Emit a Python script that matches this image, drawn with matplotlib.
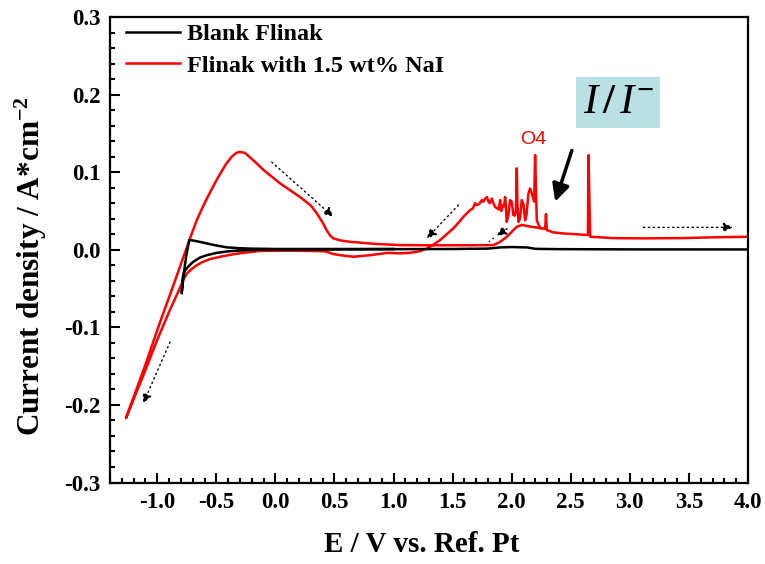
import matplotlib
matplotlib.use('Agg')
import matplotlib.pyplot as plt
from matplotlib.ticker import MultipleLocator, FormatStrFormatter

plt.rcParams['font.family'] = ['Liberation Serif', 'DejaVu Serif']
plt.rcParams['font.weight'] = 'bold'
plt.rcParams['axes.unicode_minus'] = False
plt.rcParams['mathtext.fontset'] = 'custom'
plt.rcParams['mathtext.rm'] = 'Liberation Serif:bold'
plt.rcParams['mathtext.bf'] = 'Liberation Serif:bold'
plt.rcParams['mathtext.it'] = 'Liberation Serif:style=italic:weight=normal'

# Blank Flinak (E / V, j / A cm-2)
blank_E = [4.0, 3.0, 2.4, 2.2, 2.13, 2.0, 1.90, 1.80, 1.5, 1.0, 0.5, 0.0, -0.13,
           -0.30, -0.40, -0.497, -0.58, -0.638, -0.70, -0.74, -0.77, -0.785, -0.793,
           -0.775, -0.755, -0.729, -0.70, -0.65, -0.582, -0.50, -0.412, -0.30,
           -0.215, 0.0, 1.0]
blank_j = [0.0004, 0.0005, 0.0008, 0.0012, 0.003, 0.0035, 0.003, 0.0015, 0.001,
           0.0008, 0.0006, 0.0003, 0.0, -0.001, -0.002, -0.004, -0.007, -0.010,
           -0.016, -0.022, -0.028, -0.036, -0.056, -0.030, -0.008, 0.0125, 0.012,
           0.0105, 0.0082, 0.0055, 0.0031, 0.002, 0.0015, 0.001, 0.001]

# Flinak with 1.5 wt% NaI
nai_E = [4.0, 3.7, 3.426, 3.1, 2.861, 2.664, 2.650, 2.645, 2.55, 2.438, 2.35, 2.297,
         2.290, 2.283, 2.240, 2.212, 2.198, 2.190, 2.170, 2.155, 2.141, 2.125, 2.113,
         2.100, 2.085, 2.070, 2.057, 2.048, 2.043, 2.036, 2.025, 2.014, 2.000, 1.986,
         1.972, 1.958, 1.950, 1.944, 1.935, 1.925, 1.912, 1.902, 1.890, 1.870, 1.859,
         1.845, 1.831, 1.815, 1.803, 1.790, 1.775, 1.760, 1.747, 1.725, 1.704, 1.690,
         1.670, 1.648, 1.620, 1.591, 1.55, 1.506, 1.45, 1.394, 1.33, 1.281, 1.22, 1.14,
         1.055, 0.95, 0.80, 0.66, 0.55, 0.49, 0.42, 0.30, 0.1, -0.13, -0.215, -0.30,
         -0.356, -0.45, -0.554, -0.62, -0.666, -0.71, -0.751, -0.78, -0.808, -0.90,
         -1.00, -1.10, -1.265,
         -1.10, -0.992, -0.85, -0.723, -0.666, -0.60, -0.54, -0.483, -0.42, -0.37,
         -0.33, -0.30, -0.26, -0.229, -0.17, -0.102, 0.039, 0.208, 0.30, 0.350, 0.40,
         0.434, 0.465, 0.490, 0.55, 0.631, 0.85, 1.055, 1.30, 1.60, 1.845, 1.90,
         1.959, 2.000, 2.043, 2.085, 2.15, 2.24]
nai_j = [0.0168, 0.0160, 0.0150, 0.0147, 0.0150, 0.0168, 0.122, 0.019, 0.0200,
         0.021, 0.0225, 0.0254, 0.046, 0.027, 0.028, 0.038, 0.122, 0.062, 0.0727,
         0.079, 0.072, 0.045, 0.038, 0.058, 0.064, 0.040, 0.036, 0.060, 0.105, 0.050,
         0.044, 0.0447, 0.062, 0.064, 0.045, 0.036, 0.058, 0.068, 0.056, 0.0576, 0.050,
         0.064, 0.052, 0.054, 0.0554, 0.060, 0.066, 0.060, 0.062, 0.068, 0.066, 0.062,
         0.064, 0.059, 0.0576, 0.060, 0.053, 0.0512, 0.047, 0.0425, 0.035, 0.0276,
         0.020, 0.0125, 0.006, 0.0015, -0.002, -0.0039,
         -0.0046, -0.004, -0.007, -0.009, -0.007, -0.0055, -0.002, -0.0015, -0.0012,
         -0.0015, -0.003, -0.0045, -0.0058, -0.0085, -0.012, -0.016, -0.020, -0.025,
         -0.031, -0.039, -0.049, -0.080, -0.116, -0.155, -0.217,
         -0.148, -0.100, -0.040, 0.0147, 0.038, 0.060, 0.078, 0.094, 0.110, 0.120,
         0.125, 0.126, 0.125, 0.121, 0.113, 0.103, 0.0856, 0.068, 0.057, 0.047, 0.035,
         0.025, 0.018, 0.0147, 0.012, 0.0103, 0.0075, 0.006, 0.0058, 0.0058, 0.006,
         0.010, 0.0168, 0.023, 0.0297, 0.032, 0.030, 0.028]

fig = plt.figure(figsize=(7.65, 5.64), dpi=100)
ax = fig.add_axes([0.1438, 0.1445, 0.8340, 0.8253])

ax.plot(blank_E, blank_j, color='black', lw=1.8, label='Blank Flinak', zorder=3)
ax.plot(nai_E, nai_j, color='red', lw=1.8, label='Flinak with 1.5 wt% NaI', zorder=2)

ax.set_xlim(-1.4, 4.0)
ax.set_ylim(-0.3, 0.3)
ax.xaxis.set_major_locator(MultipleLocator(0.5))
ax.xaxis.set_minor_locator(MultipleLocator(0.1))
ax.yaxis.set_major_locator(MultipleLocator(0.1))
ax.yaxis.set_minor_locator(MultipleLocator(0.02))
ax.xaxis.set_major_formatter(FormatStrFormatter('%.1f'))
ax.yaxis.set_major_formatter(FormatStrFormatter('%.1f'))
ax.set_xticks([v / 10 for v in range(-10, 41, 5)])
ax.tick_params(which='both', direction='in', top=False, right=False, width=1.5)
ax.tick_params(which='major', length=7, labelsize=16.5, pad=7)
ax.tick_params(which='minor', length=3.5)
for s in ax.spines.values():
    s.set_linewidth(1.6)

ax.set_xlabel('E / V vs. Ref. Pt', fontsize=21, fontweight='bold', va='top')
ax.xaxis.set_label_coords(0.489, -0.105)
ax.set_ylabel('Current density / A*cm$^{-2}$', fontsize=22.5, fontweight='bold')
ax.yaxis.set_label_coords(-0.095, 0.4645)

leg = ax.legend(loc='upper left', bbox_to_anchor=(0.018, 0.997), frameon=False,
                fontsize=17.5, handlelength=2.2, handletextpad=0.3, labelspacing=0.38,
                borderaxespad=0, borderpad=0.2)

# dotted scan-direction arrows
dot = dict(arrowstyle='-|>', color='black', lw=1.0, linestyle=(0, (1, 2.5)),
           mutation_scale=14, shrinkA=0, shrinkB=0)
ax.annotate('', xy=(-1.119, -0.198), xytext=(-0.892, -0.119), arrowprops=dot)
ax.annotate('', xy=(0.49, 0.0425), xytext=(-0.031, 0.113), arrowprops=dot)
ax.annotate('', xy=(1.281, 0.0147), xytext=(1.549, 0.0576), arrowprops=dot)
ax.annotate('', xy=(1.874, 0.018), xytext=(1.96, 0.027), arrowprops=dot)
ax.plot([1.775, 1.87], [0.006, 0.018], color='black', lw=1.0, linestyle=(0, (1, 2.5)))
ax.annotate('', xy=(3.872, 0.0289), xytext=(3.115, 0.0289), arrowprops=dot)

# thick arrow and labels
ax.annotate('', xy=(2.368, 0.062), xytext=(2.509, 0.128),
            arrowprops=dict(arrowstyle='-|>', color='black', lw=2.5,
                            mutation_scale=26, shrinkA=0, shrinkB=0))
ax.text(2.184, 0.1424, 'O4', color='red', fontsize=14, fontweight='normal',
        family='Liberation Sans', ha='center', va='center')
ax.text(2.902, 0.190, r'$\mathit{I\,/\,I}^{\mathit{-}}$', fontsize=31,
        fontweight='normal', ha='center', va='center',
        bbox=dict(boxstyle='square,pad=0.14', fc='#b9e0e3', ec='none'))

fig.savefig('out.png', dpi=100)
